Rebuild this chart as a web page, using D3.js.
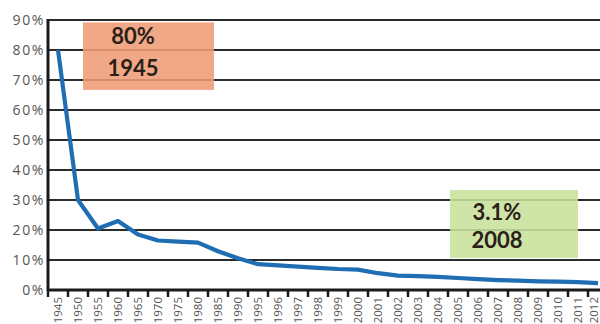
<!DOCTYPE html>
<html>
<head>
<meta charset="utf-8">
<script src="https://cdn.jsdelivr.net/npm/d3@7"></script>
<style>
  html, body { margin: 0; padding: 0; background: #fff; overflow: hidden; }
  svg { display: block; }
</style>
</head>
<body>
<svg id="chart" width="600" height="324"></svg>
<script>
// Years on the category axis (five-year steps first, then yearly)
const years = ["1945","1950","1955","1960","1965","1970","1975","1980","1985","1990","1995",
  "1996","1997","1998","1999","2000","2001","2002","2003","2004","2005","2006","2007",
  "2008","2009","2010","2011","2012"];

// Share (%) for each year
const shares = [80, 30, 20.5, 23, 18.5, 16.5, 16.1, 15.8, 12.9, 10.6, 8.6,
  8.2, 7.8, 7.4, 7.0, 6.8, 5.6, 4.8, 4.6, 4.4, 4.0, 3.6, 3.3,
  3.1, 2.9, 2.8, 2.6, 2.3];

// Y axis ticks (%)
const yTicks = [0, 10, 20, 30, 40, 50, 60, 70, 80, 90];

// Callout boxes: value label, year label
const calloutLabels = ["80%", "3.1%"];
const calloutYears = ["1945", "2008"];

const svg = d3.select("#chart");
const plotLeft = 48, plotRight = 608, plotTop = 20, plotBottom = 290;

const x = d3.scaleBand().domain(years).range([plotLeft, plotRight]).padding(0);
const y = d3.scaleLinear().domain([0, 90]).range([plotBottom, plotTop]);

// Horizontal gridlines
svg.append("g")
  .selectAll("line")
  .data(yTicks.filter(d => d > 0))
  .join("line")
  .attr("x1", plotLeft).attr("x2", 600)
  .attr("y1", d => y(d)).attr("y2", d => y(d))
  .attr("stroke", "#2b2b2b")
  .attr("stroke-width", 2);

// Y tick labels
svg.append("g")
  .selectAll("text")
  .data(yTicks)
  .join("text")
  .attr("x", 45)
  .attr("y", d => y(d))
  .attr("dy", "0.36em")
  .attr("text-anchor", "end")
  .attr("font-family", "'Open Sans', sans-serif")
  .attr("font-size", 14)
  .attr("letter-spacing", 1.6)
  .attr("fill", "#555")
  .text(d => d + "%");

// Callout boxes (drawn over the grid, slightly translucent)
const callouts = [
  { fill: "#ef9c76", x0: 83, x1: 214, y0: 89.2, y1: 66.7, tx: 133, l1: 44, l2: 76 },
  { fill: "#c8e19c", x0: 450, x1: 578, y0: 33.3, y1: 10.7, tx: 497, l1: 220, l2: 248 }
];
const cg = svg.append("g");
callouts.forEach((c, i) => {
  cg.append("rect")
    .attr("x", c.x0).attr("width", c.x1 - c.x0)
    .attr("y", y(c.y0)).attr("height", y(c.y1) - y(c.y0))
    .attr("fill", c.fill)
    .attr("fill-opacity", 0.88);
  [calloutLabels[i], calloutYears[i]].forEach((t, j) => {
    cg.append("text")
      .attr("x", c.tx)
      .attr("y", j === 0 ? c.l1 : c.l2)
      .attr("text-anchor", "middle")
      .attr("font-family", "Lato, sans-serif")
      .attr("font-weight", 700)
      .attr("font-size", 22)
      .attr("fill", "#2a2018")
      .text(t);
  });
});

// Data line
const line = d3.line()
  .x((d, i) => x(years[i]) + x.bandwidth() / 2)
  .y(d => y(d));
svg.append("path")
  .datum(shares)
  .attr("d", line)
  .attr("fill", "none")
  .attr("stroke", "#1f6db3")
  .attr("stroke-width", 4.2)
  .attr("stroke-linejoin", "round");

// Axes lines
svg.append("line")
  .attr("x1", plotLeft).attr("x2", plotLeft)
  .attr("y1", plotTop - 1).attr("y2", plotBottom + 1)
  .attr("stroke", "#1a1a1a").attr("stroke-width", 3);
svg.append("line")
  .attr("x1", plotLeft - 1).attr("x2", 600)
  .attr("y1", plotBottom).attr("y2", plotBottom)
  .attr("stroke", "#1a1a1a").attr("stroke-width", 3);

// Category ticks at band boundaries
svg.append("g")
  .selectAll("line")
  .data(years)
  .join("line")
  .attr("x1", d => x(d)).attr("x2", d => x(d))
  .attr("y1", plotBottom).attr("y2", plotBottom + 7)
  .attr("stroke", "#1a1a1a")
  .attr("stroke-width", 2.5);

// Rotated year labels (the last one sits at the right edge)
svg.append("g")
  .selectAll("text")
  .data(years)
  .join("text")
  .attr("transform", (d, i) => `translate(${Math.min(x(d) + x.bandwidth() / 2, 594)},297) rotate(-90)`)
  .attr("text-anchor", "end")
  .attr("dy", "0.36em")
  .attr("font-family", "'Open Sans', sans-serif")
  .attr("font-size", 11.5)
  .attr("fill", "#555")
  .text(d => d);
</script>
</body>
</html>
